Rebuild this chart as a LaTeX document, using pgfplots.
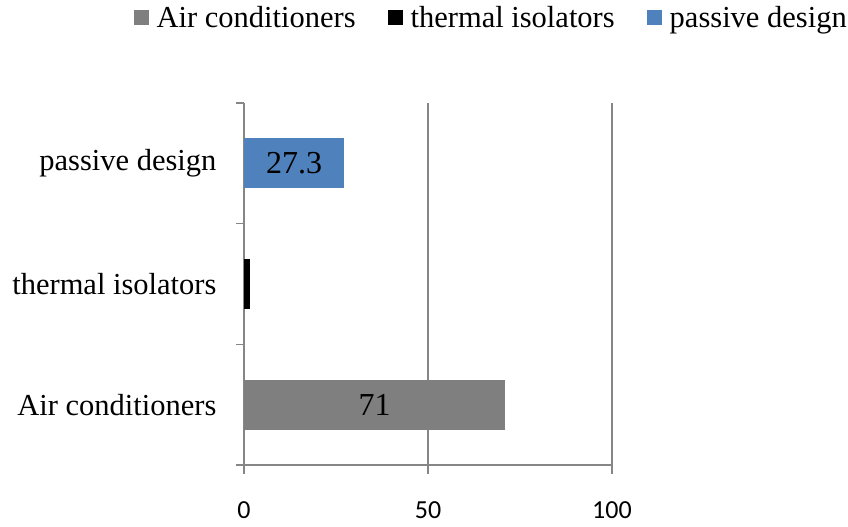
\documentclass[border=0pt]{standalone}
\usepackage{fontspec}
\setmainfont{Liberation Serif}
\newfontfamily\carlito{Carlito}
\usepackage{pgfplots}
\pgfplotsset{compat=1.18}

\definecolor{acgray}{RGB}{127,127,127}
\definecolor{pdblue}{RGB}{79,129,189}
\definecolor{gridgray}{RGB}{134,134,134}

\begin{document}
\begin{tikzpicture}
\useasboundingbox (-244bp,-62bp) rectangle (604bp,465bp);
\begin{axis}[
  name=ax,
  anchor=south west,
  at={(0,0)},
  scale only axis,
  width=368bp, height=362bp,
  xmin=0, xmax=100,
  ymin=-0.5, ymax=2.5,
  axis x line*=bottom,
  axis y line*=left,
  axis line style={gridgray, line width=1.2bp, -},
  xtick={0,50,100},
  xmajorgrids,
  major grid style={gridgray, line width=1.2bp},
  xtick style={gridgray, line width=1.2bp},
  tick align=outside,
  major tick length=9bp,
  /pgf/number format/assume math mode=true,
  xticklabel style={font=\carlito\fontsize{26bp}{30bp}\selectfont, text=black},
  xticklabel shift=24bp,
  ytick={0,1,2},
  yticklabels={Air conditioners, thermal isolators, passive design},
  ytick style={draw=none},
  yticklabel style={font=\fontsize{30.5bp}{34bp}\selectfont, text=black},
  yticklabel shift=15bp,
  extra y ticks={-0.5,0.5,1.5,2.5},
  extra y tick labels={},
  extra y tick style={ytick style={draw=gridgray, line width=1.2bp}, major tick length=8bp},
  xbar, bar shift=0pt, bar width=50bp,
  legend columns=3,
  legend style={draw=none, fill=none, at={(1.644,1.273)}, anchor=north east,
    font=\fontsize{30.5bp}{34bp}\selectfont, inner sep=0pt,
    /tikz/every even column/.append style={column sep=30bp},
    /tikz/every odd column/.append style={column sep=6bp}},
  legend image code/.code={\fill[#1] (0bp,-7.5bp) rectangle (15bp,7.5bp);},
  visualization depends on=rawx \as \rawx,
  every node near coord/.append style={anchor=center, text=black,
    font=\fontsize{32bp}{36bp}\selectfont,
    shift={(axis direction cs:-\rawx/2,0)}},
]
\addplot[fill=acgray, draw=none, nodes near coords] coordinates {(71,0)};
\addlegendentry{Air conditioners}
\addplot[fill=black, draw=none] coordinates {(1.7,1)};
\addlegendentry{thermal isolators}
\addplot[fill=pdblue, draw=none, nodes near coords] coordinates {(27.3,2)};
\addlegendentry{passive design}
\end{axis}
\end{tikzpicture}
\end{document}
